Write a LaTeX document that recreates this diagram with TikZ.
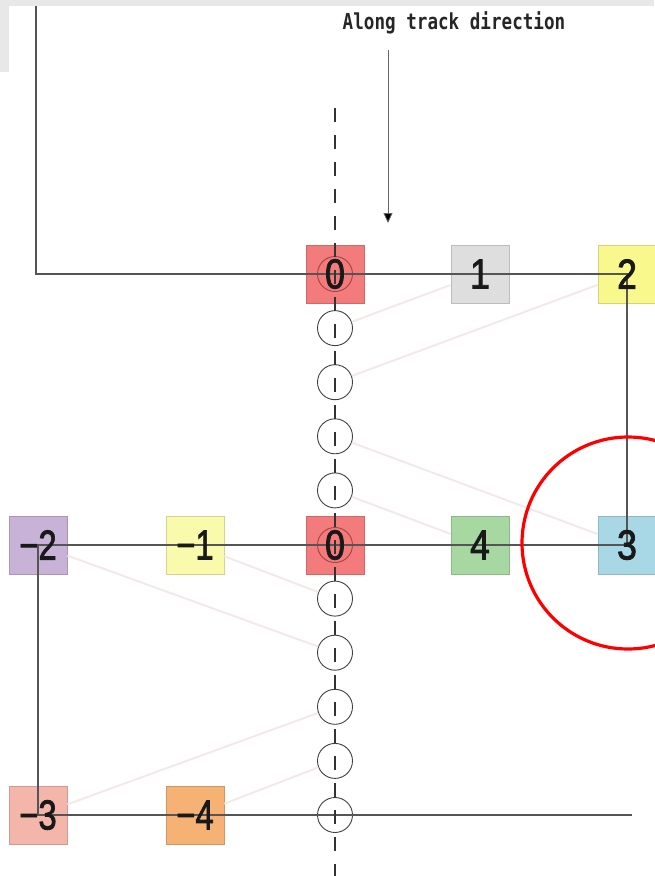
\documentclass[tikz,border=0pt]{standalone}
\usepackage{fontspec}
\usepackage{graphicx}
\setmainfont{Liberation Sans}
\newfontfamily\monof{DejaVu Sans Mono}
\newfontfamily\digitf[FakeBold=2]{Liberation Sans}
\usetikzlibrary{arrows.meta}
\definecolor{cred}{HTML}{F47B7B}
\definecolor{cgray}{HTML}{DEDEDE}
\definecolor{cyel}{HTML}{F8F88C}
\definecolor{cblue}{HTML}{A8D8E6}
\definecolor{cgreen}{HTML}{A8D8A2}
\definecolor{clyel}{HTML}{FAFAAC}
\definecolor{clav}{HTML}{C8B2D8}
\definecolor{csalm}{HTML}{F4B6AA}
\definecolor{corange}{HTML}{F6B274}
\definecolor{mainline}{HTML}{555555}
\definecolor{faint}{HTML}{F4E9E9}
\definecolor{bgband}{HTML}{E8E8E8}
\definecolor{incirc}{HTML}{A04444}
\begin{document}
\begin{tikzpicture}[x=1pt,y=-1pt,
  cell/.style={draw=#1!85!black, fill=#1, minimum size=58pt, inner sep=0pt, line width=0.8pt},
  lbl/.style={inner sep=0pt, font=\digitf\fontsize{42}{42}\selectfont, text=black!90},
  mline/.style={draw=mainline, line width=1.4pt},
  fline/.style={draw=faint, line width=2pt},
  circ/.style={circle, draw=#1, minimum size=35pt, inner sep=0pt, line width=0.9pt},
  circ/.default={black!75}
]
\useasboundingbox (0,0) rectangle (654,876);
% background bands
\fill[bgband] (0,0) rectangle (654,6);
\fill[bgband] (0,6) rectangle (9,72);
% boxes
\node[cell=cred]    (b0a) at (335,274) {};
\node[cell=cgray]   (b1)  at (480,274) {};
\node[cell=cyel]    (b2)  at (627,274) {};
\node[cell=cblue]   (b3)  at (627,545) {};
\node[cell=cgreen]  (b4)  at (480,545) {};
\node[cell=cred]    (b0b) at (335,545) {};
\node[cell=clyel]   (bm1) at (195,545) {};
\node[cell=clav]    (bm2) at (38,545) {};
\node[cell=csalm]   (bm3) at (38,815) {};
\node[cell=corange] (bm4) at (195,815) {};
% circles
\node[circ=incirc] (c0) at (335,274) {};
\foreach \i in {1,2,3,4,6,7,8,9,10} {
  \node[circ] (c\i) at (335,{274+54.1*\i}) {};
}
\node[circ=incirc] (c5) at (335,545) {};
% faint connections
\draw[fline] (b1) -- (c1);
\draw[fline] (b2) -- (c2);
\draw[fline] (b3) -- (c3);
\draw[fline] (b4) -- (c4);
\draw[fline] (bm1) -- (c6);
\draw[fline] (bm2) -- (c7);
\draw[fline] (bm3) -- (c8);
\draw[fline] (bm4) -- (c9);
% main lines
\coordinate (tl) at (36,6);
\coordinate (tc) at (36,274);
\coordinate (br) at (632,815);
\draw[mline] (tl) -- (tc) -- (b2.center) -- (b3.center) -- (bm2.center) -- (bm3.center) -- (br);
% dashed axis
\coordinate (dtop) at (335,108);
\coordinate (dbot) at (335,876);
\draw[draw=black!80, line width=1.3pt, dash pattern=on 14pt off 13pt] (dtop) -- (dbot);
% labels
\node[lbl] (t0a) at (b0a) {\scalebox{0.85}[1]{0}};
\node[lbl] (t1)  at (b1)  {\scalebox{0.85}[1]{1}};
\node[lbl] (t2)  at (b2)  {\scalebox{0.85}[1]{2}};
\node[lbl] (t3)  at (b3)  {\scalebox{0.85}[1]{3}};
\node[lbl] (t4)  at (b4)  {\scalebox{0.85}[1]{4}};
\node[lbl] (t0b) at (b0b) {\scalebox{0.85}[1]{0}};
\node[lbl] (tm1) at (bm1) {\scalebox{0.78}[1]{−1}};
\node[lbl] (tm2) at (bm2) {\scalebox{0.78}[1]{−2}};
\node[lbl] (tm3) at (bm3) {\scalebox{0.78}[1]{−3}};
\node[lbl] (tm4) at (bm4) {\scalebox{0.78}[1]{−4}};
% red circle
\node[circle, draw=red, line width=3.2pt, minimum size=212pt, inner sep=0pt] (rc) at (628,543) {};
% arrow
\coordinate (atop) at (388,50);
\coordinate (atip) at (388,223);
\draw[draw=black!60, line width=0.8pt, -{Triangle[width=9pt,length=10pt,fill=black]}] (atop) -- (atip);
% title
\node[inner sep=0pt, font=\monof\bfseries\fontsize{22}{22}\selectfont, text=black!85] (title) at (454,23) {\scalebox{0.8}[1]{Along track direction}};
\end{tikzpicture}
\end{document}
